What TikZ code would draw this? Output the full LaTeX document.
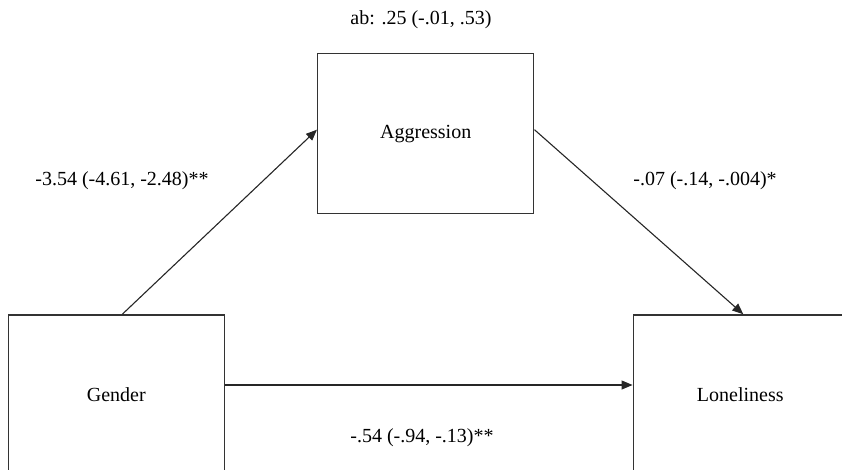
\documentclass[tikz,border=0pt]{standalone}
\usepackage{fontspec}
\setmainfont{Liberation Serif}
\newfontfamily\labelfont{Liberation Serif}
\usepackage{tikz}
\usetikzlibrary{arrows.meta,positioning,calc}

\begin{document}
\begin{tikzpicture}[x=1pt,y=-1pt,
  varbox/.style={draw=black!80,line width=1.5pt,rectangle,inner sep=0pt,minimum width=216pt,minimum height=160pt,font=\labelfont\fontsize{20}{24}\selectfont},
  coef/.style={font=\labelfont\fontsize{20}{24}\selectfont,text=black},
  path/.style={draw=black!85,line width=1.1pt,-{Triangle[length=11pt,width=9pt]}}]
 	\useasboundingbox (0,0) rectangle (842,470);
 	\clip (0,0) rectangle (842,470);
 	% variables
 	\node[varbox] (aggr) at (425.7,133.7) {Aggression};
 	\node[varbox] (gender) at (116.3,395) {Gender};
 	\node[varbox,minimum width=214pt] (lonely) at (740.3,395) {Loneliness};
 	% paths
 	\draw[path] ([xshift=6pt]gender.north) -- ([yshift=4pt]aggr.west);
 	\draw[path] ([yshift=4pt]aggr.east) -- ([xshift=3pt]lonely.north);
 	\draw[path] ([yshift=10pt]gender.east) -- ([yshift=10pt]lonely.west);
 	% estimates
 	\node[coef] (ab) at (421,20) {ab: .25 (-.01, .53)};
 	\node[coef] (a) at (122,181) {-3.54 (-4.61, -2.48)**};
 	\node[coef] (b) at (705,181) {-.07 (-.14, -.004)*};
 	\node[coef] (c) at (422,438) {-.54 (-.94, -.13)**};
 \end{tikzpicture}
\end{document}
